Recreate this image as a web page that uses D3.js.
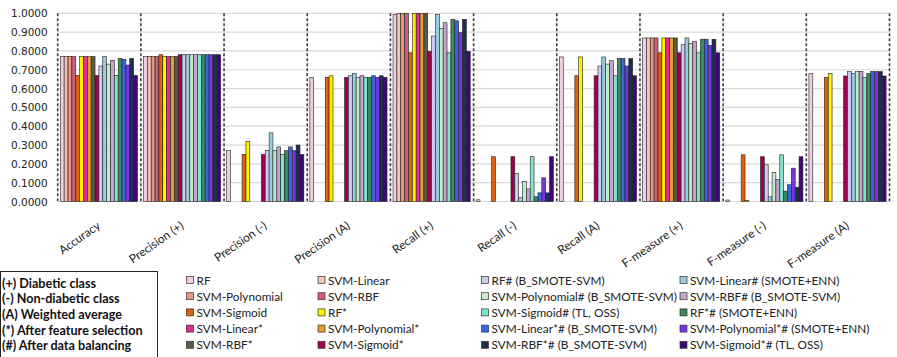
<!DOCTYPE html>
<html>
<head>
<meta charset="utf-8">
<script src="https://cdn.jsdelivr.net/npm/d3@7"></script>
<style>
  html, body { margin: 0; padding: 0; background: #fff; }
  svg { display: block; }
</style>
</head>
<body>
<svg id="chart" width="897" height="357"></svg>
<script>
// ---------- DATA ----------
const categories = ["Accuracy", "Precision (+)", "Precision (-)", "Precision (A)", "Recall (+)",
  "Recall (-)", "Recall (A)", "F-measure (+)", "F-measure (-)", "F-measure (A)"];

const seriesNames = ["RF", "SVM-Linear", "SVM-Polynomial", "SVM-RBF", "SVM-Sigmoid",
  "RF*", "SVM-Linear*", "SVM-Polynomial*", "SVM-RBF*", "SVM-Sigmoid*",
  "RF# (B_SMOTE-SVM)", "SVM-Linear# (SMOTE+ENN)", "SVM-Polynomial# (B_SMOTE-SVM)", "SVM-RBF# (B_SMOTE-SVM)", "SVM-Sigmoid# (TL, OSS)",
  "RF*# (SMOTE+ENN)", "SVM-Linear*# (B_SMOTE-SVM)", "SVM-Polynomial*# (SMOTE+ENN)", "SVM-RBF*# (B_SMOTE-SVM)", "SVM-Sigmoid*# (TL, OSS)"];

const seriesColors = ["#F2CCE0", "#F4C2B6", "#E8967E", "#C8607E", "#E06010",
  "#FFF000", "#E8289A", "#E0A030", "#5A5A46", "#A00050",
  "#CCCCF0", "#98CCE4", "#C4EACC", "#C4A4CC", "#80E4CC",
  "#3A8C5C", "#3A64E0", "#7A34E0", "#1E2E52", "#3C0878"];

// values per metric, in series order (null = no bar)
const accuracy     = [0.77, 0.77, 0.77, 0.77, 0.67, 0.77, 0.77, 0.77, 0.77, 0.67, 0.72, 0.77, 0.73, 0.75, 0.67, 0.76, 0.755, 0.725, 0.76, 0.67];
const precisionPos = [0.77, 0.77, 0.77, 0.77, 0.78, 0.77, 0.77, 0.77, 0.77, 0.78, 0.78, 0.78, 0.78, 0.78, 0.78, 0.78, 0.78, 0.78, 0.78, 0.78];
const precisionNeg = [0.27, null, null, null, 0.25, 0.32, null, null, null, 0.25, 0.27, 0.365, 0.27, 0.29, 0.25, 0.27, 0.29, 0.27, 0.30, 0.25];
const precisionAvg = [0.66, null, null, null, 0.66, 0.668, null, null, null, 0.66, 0.668, 0.68, 0.66, 0.668, 0.66, 0.66, 0.668, 0.66, 0.668, 0.66];
const recallPos    = [0.993, 1.0, 1.0, 1.0, 0.79, 1.0, 1.0, 1.0, 1.0, 0.798, 0.879, 0.993, 0.92, 0.95, 0.79, 0.968, 0.96, 0.897, 0.968, 0.798];
const recallNeg    = [0.009, null, null, null, 0.238, null, null, null, null, 0.238, 0.149, 0.02, 0.106, 0.067, 0.238, 0.025, 0.046, 0.126, 0.046, 0.238];
const recallAvg    = [0.768, null, null, null, 0.668, 0.768, null, null, null, 0.668, 0.72, 0.768, 0.73, 0.748, 0.668, 0.76, 0.76, 0.72, 0.76, 0.668];
const fmeasurePos  = [0.869, 0.869, 0.869, 0.869, 0.79, 0.869, 0.869, 0.869, 0.869, 0.79, 0.833, 0.869, 0.839, 0.85, 0.79, 0.862, 0.862, 0.83, 0.862, 0.79];
const fmeasureNeg  = [0.008, null, null, null, 0.248, 0.006, null, null, null, 0.238, 0.195, 0.025, 0.154, 0.117, 0.248, 0.055, 0.089, 0.177, 0.076, 0.238];
const fmeasureAvg  = [0.679, null, null, null, 0.66, 0.68, null, null, null, 0.667, 0.69, 0.68, 0.69, 0.69, 0.66, 0.68, 0.69, 0.69, 0.69, 0.667];

const metricValues = [accuracy, precisionPos, precisionNeg, precisionAvg, recallPos,
  recallNeg, recallAvg, fmeasurePos, fmeasureNeg, fmeasureAvg];

const yTicks = [0, 0.1, 0.2, 0.3, 0.4, 0.5, 0.6, 0.7, 0.8, 0.9, 1.0];

const notes = ["(+) Diabetic class", "(-) Non-diabetic class", "(A) Weighted average",
  "(*) After feature selection", "(#) After data balancing"];

// ---------- CHART ----------
const svg = d3.select("#chart");
const plotLeft = 57.7, plotRight = 889.5, plotTop = 13.3, plotBottom = 201.5;
const labelFont = "Lato, 'Liberation Sans', Arial, sans-serif";

const x0 = d3.scaleBand().domain(categories).range([plotLeft, plotRight]).paddingInner(0).paddingOuter(0);
const x1 = d3.scaleBand().domain(d3.range(seriesNames.length)).range([2.6, x0.bandwidth() - 3.4]).padding(0);
const y = d3.scaleLinear().domain([0, 1]).range([plotBottom, plotTop]);

// gridlines
svg.append("g").selectAll("line").data(yTicks).join("line")
  .attr("x1", plotLeft).attr("x2", plotRight)
  .attr("y1", d => y(d)).attr("y2", d => y(d))
  .attr("stroke", "#d9d9d9").attr("stroke-width", 1.2);

// y tick labels
const yAxis = d3.axisLeft(y).tickValues(yTicks).tickFormat(d3.format(".4f")).tickSize(0).tickPadding(0);
const yg = svg.append("g").attr("transform", `translate(${plotLeft - 10},0)`).call(yAxis);
yg.select(".domain").remove();
yg.selectAll("text").attr("font-family", "'DejaVu Sans', Verdana, sans-serif")
  .attr("font-size", 10.5).attr("fill", "#222").attr("dy", "0.34em");

// bars
const groups = svg.append("g").selectAll("g").data(categories).join("g")
  .attr("transform", d => `translate(${x0(d)},0)`);
groups.selectAll("rect")
  .data((c, ci) => metricValues[ci].map((v, si) => ({ v, si })).filter(d => d.v !== null))
  .join("rect")
  .attr("x", d => x1(d.si))
  .attr("width", x1.bandwidth())
  .attr("y", d => y(d.v))
  .attr("height", d => y(0) - y(d.v))
  .attr("fill", d => seriesColors[d.si])
  .attr("stroke", "#222").attr("stroke-width", 0.6);

// dashed separators
const seps = categories.map(c => x0(c)).concat([plotRight]);
svg.append("g").selectAll("line").data(seps).join("line")
  .attr("x1", d => d).attr("x2", d => d)
  .attr("y1", plotTop).attr("y2", plotBottom)
  .attr("stroke", "#404040").attr("stroke-width", 1.6).attr("stroke-dasharray", "3,2");

// x labels
const xAxis = d3.axisBottom(x0).tickSize(0).tickPadding(0);
const xg = svg.append("g").attr("transform", `translate(0,${plotBottom})`).call(xAxis);
xg.select(".domain").remove();
xg.selectAll("text")
  .attr("font-family", labelFont)
  .attr("font-size", 11.8).attr("fill", "#222")
  .attr("text-anchor", "end")
  .attr("dy", null).attr("y", 0)
  .attr("transform", "translate(2,26) rotate(-35)");

// notes box
const noteBox = svg.append("g");
noteBox.append("rect").attr("x", 0.5).attr("y", 271.5).attr("width", 157).attr("height", 90)
  .attr("fill", "none").attr("stroke", "#222").attr("stroke-width", 1);
noteBox.selectAll("text").data(notes).join("text")
  .attr("x", 2).attr("y", (d, i) => 287.5 + i * 15.7)
  .attr("font-family", labelFont).attr("font-weight", "bold")
  .attr("font-size", 12.6).attr("fill", "#111").text(d => d);

// legend
const colX = [186.5, 318, 481.5, 680];
const legend = svg.append("g").selectAll("g").data(seriesNames).join("g")
  .attr("transform", (d, i) => {
    const half = Math.floor(i / 10), j = i % 10;
    const col = half * 2 + (j % 2), row = Math.floor(j / 2);
    return `translate(${colX[col]},${280 + row * 16.2})`;
  });
legend.append("rect").attr("x", 0).attr("y", -3.5).attr("width", 7).attr("height", 7)
  .attr("fill", (d, i) => seriesColors[i]).attr("stroke", "#333").attr("stroke-width", 0.7);
legend.append("text").attr("x", 10).attr("y", 4.5)
  .attr("font-family", labelFont).attr("font-size", 11.8)
  .attr("fill", "#222").text(d => d);
</script>
</body>
</html>
